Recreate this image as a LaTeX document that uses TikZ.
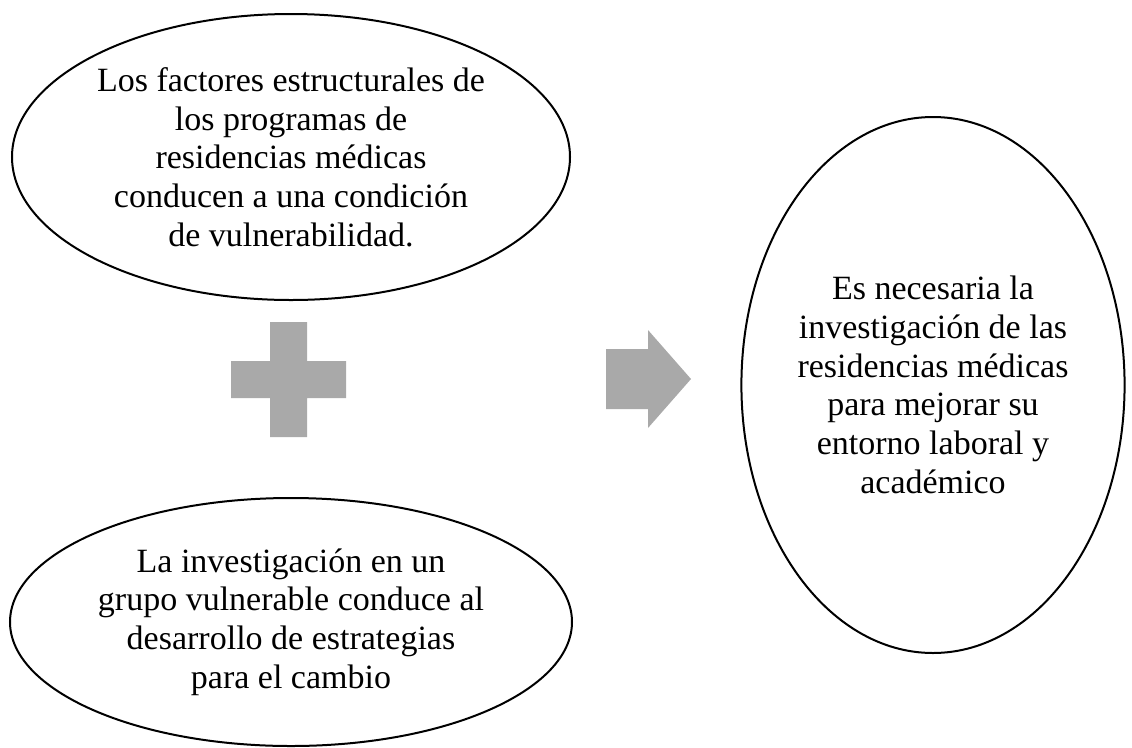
\documentclass[tikz,border=0pt]{standalone}
\usepackage{fontspec}
\setmainfont{Liberation Serif}
\usetikzlibrary{shapes.geometric}
\definecolor{gris}{RGB}{169,169,169}

\begin{document}
\begin{tikzpicture}[x=0.75pt,y=-0.75pt]
				\tikzstyle{every node}=[ellipse,draw,line width=1.5pt,align=center,inner sep=0pt,
				font=\fontsize{25.5}{29}\selectfont]
				\tikzstyle{signo}=[fill=gris]
				\useasboundingbox (0,0) rectangle (1132,747);
				\node[minimum width=418.5pt,minimum height=214.5pt] (factores) at (291,157) 
				{Los factores estructurales de\\los programas de\\residencias médicas\\conducen a una condición\\de vulnerabilidad.};
				\node[minimum width=421.5pt,minimum height=186pt] (grupo) at (291,622) 
				{La investigación en un\\grupo vulnerable conduce al\\desarrollo de estrategias\\para el cambio};
				\node[minimum width=285pt,minimum height=402pt] (meta) at (933,385) 
				{Es necesaria la\\investigación de las\\residencias médicas\\para mejorar su\\entorno laboral y\\académico};
				% signo mas
				\fill[signo] (270,322) -- (307,322) -- (307,361) -- (346,361) -- (346,398) -- (307,398) 
				-- (307,437) -- (270,437) -- (270,398) -- (231,398) -- (231,361) -- (270,361) -- cycle;
				% flecha
				\fill[signo] (606,349) -- (648,349) -- (648,330) -- (691,379) -- (648,428) -- (648,409) 
				-- (606,409) -- cycle;
\end{tikzpicture}
\end{document}
